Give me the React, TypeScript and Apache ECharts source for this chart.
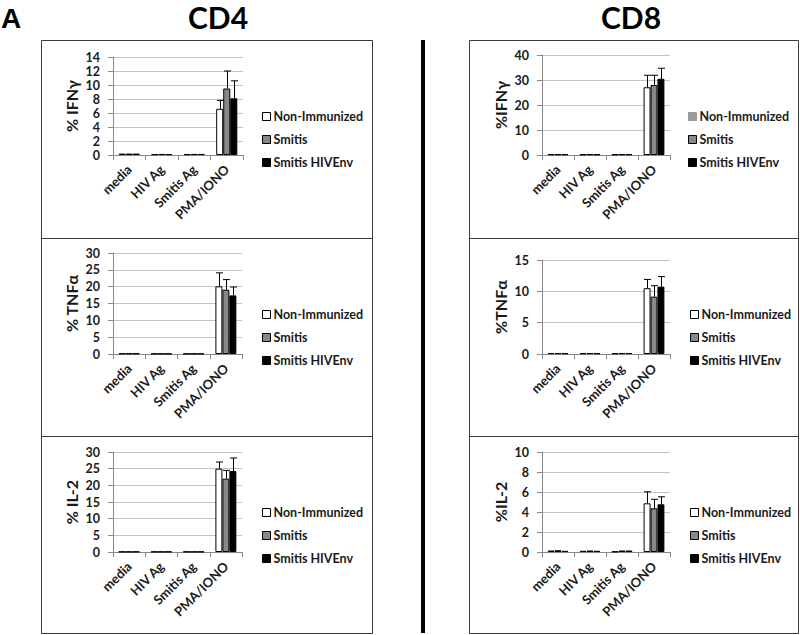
import React, { useEffect, useRef } from "react";
import * as echarts from "echarts";

const categories = ["media", "HIV Ag", "Smitis Ag", "PMA/IONO"];
const seriesNames = ["Non-Immunized", "Smitis", "Smitis HIVEnv"];

// CD4 IFNγ
const cd4IfngNon = [0.2, 0.12, 0.12, 6.6];
const cd4IfngSm = [0.2, 0.15, 0.15, 9.5];
const cd4IfngEnv = [0.2, 0.12, 0.15, 8.1];
const cd4IfngErr = [1.2, 2.5, 2.5];
// CD4 TNFα
const cd4TnfNon = [0.15, 0.1, 0.1, 20.1];
const cd4TnfSm = [0.15, 0.1, 0.1, 19.1];
const cd4TnfEnv = [0.15, 0.1, 0.1, 17.4];
const cd4TnfErr = [4.0, 3.0, 2.5];
// CD4 IL-2
const cd4Il2Non = [0.1, 0.1, 0.1, 25.0];
const cd4Il2Sm = [0.1, 0.1, 0.1, 22.0];
const cd4Il2Env = [0.1, 0.1, 0.1, 24.3];
const cd4Il2Err = [2.0, 2.5, 3.9];
// CD8 IFNγ
const cd8IfngNon = [0.3, 0.25, 0.25, 27.1];
const cd8IfngSm = [0.3, 0.3, 0.3, 28.0];
const cd8IfngEnv = [0.3, 0.25, 0.3, 30.5];
const cd8IfngErr = [4.8, 3.9, 4.2];
// CD8 TNFα
const cd8TnfNon = [0.15, 0.12, 0.1, 10.5];
const cd8TnfSm = [0.15, 0.15, 0.15, 9.15];
const cd8TnfEnv = [0.12, 0.12, 0.15, 10.75];
const cd8TnfErr = [1.4, 1.75, 1.6];
// CD8 IL-2
const cd8Il2Non = [0.15, 0.12, 0.05, 4.87];
const cd8Il2Sm = [0.18, 0.15, 0.15, 4.37];
const cd8Il2Env = [0.12, 0.12, 0.15, 4.77];
const cd8Il2Err = [1.15, 0.9, 0.75];

const colors = ["#ffffff", "#888888", "#000000"];
const GAP = 0.35;

type Panel = {
  name: string;
  values: number[][];
  errs: number[];
  max: number;
  interval: number;
  grid: { left: number; top: number; width: number; height: number };
  legendLeft: number;
  legendTop: number;
  firstLegendColor?: string;
};

const panels: Panel[] = [
  { name: "% IFNγ", values: [cd4IfngNon, cd4IfngSm, cd4IfngEnv], errs: cd4IfngErr, max: 14, interval: 2,
    grid: { left: 113, top: 57, width: 130, height: 98 }, legendLeft: 262, legendTop: 110 },
  { name: "% TNFα", values: [cd4TnfNon, cd4TnfSm, cd4TnfEnv], errs: cd4TnfErr, max: 30, interval: 5,
    grid: { left: 113, top: 253, width: 129, height: 101 }, legendLeft: 262, legendTop: 308 },
  { name: "% IL-2", values: [cd4Il2Non, cd4Il2Sm, cd4Il2Env], errs: cd4Il2Err, max: 30, interval: 5,
    grid: { left: 113, top: 452, width: 129, height: 100 }, legendLeft: 262, legendTop: 506 },
  { name: "%IFNγ", values: [cd8IfngNon, cd8IfngSm, cd8IfngEnv], errs: cd8IfngErr, max: 40, interval: 10,
    grid: { left: 542, top: 55, width: 128, height: 100 }, legendLeft: 688, legendTop: 110, firstLegendColor: "#9a9a9a" },
  { name: "%TNFα", values: [cd8TnfNon, cd8TnfSm, cd8TnfEnv], errs: cd8TnfErr, max: 15, interval: 5,
    grid: { left: 542, top: 260, width: 128, height: 94 }, legendLeft: 690, legendTop: 308 },
  { name: "%IL-2", values: [cd8Il2Non, cd8Il2Sm, cd8Il2Env], errs: cd8Il2Err, max: 10, interval: 2,
    grid: { left: 542, top: 452, width: 128, height: 100 }, legendLeft: 690, legendTop: 506 },
];

const FONT = "Lato";
const TXT = "#1a1a1a";
const SQUARE = "path://M0,0L10,0L10,10L0,10Z";

export default function App() {
  const ref = useRef<HTMLDivElement>(null);
  useEffect(() => {
    if (!ref.current) return;
    const chart = echarts.init(ref.current, undefined, { renderer: "svg" });

    const grids: any[] = [];
    const xAxes: any[] = [];
    const yAxes: any[] = [];
    const series: any[] = [];
    const legends: any[] = [];

    panels.forEach((p, pi) => {
      grids.push({ ...p.grid, containLabel: false });
      xAxes.push({
        type: "category",
        gridIndex: pi,
        data: categories,
        axisLine: { lineStyle: { color: "#888", width: 1 } },
        axisTick: { show: true, length: 5, lineStyle: { color: "#888" } },
        axisLabel: { rotate: 45, margin: 12, color: TXT, fontFamily: FONT, fontWeight: "bold", fontSize: 13, interval: 0 },
      });
      yAxes.push({
        type: "value",
        gridIndex: pi,
        min: 0,
        max: p.max,
        interval: p.interval,
        name: p.name,
        nameLocation: "middle",
        nameGap: 34,
        nameTextStyle: { color: TXT, fontFamily: FONT, fontWeight: "bold", fontSize: 16 },
        axisLine: { show: true, lineStyle: { color: "#888", width: 1 } },
        axisTick: { show: true, length: 5, lineStyle: { color: "#888" } },
        axisLabel: { margin: 13, color: TXT, fontFamily: FONT, fontWeight: "bold", fontSize: 12.5, lineHeight: 12 },
        splitLine: { show: true, lineStyle: { color: "#c4c4c4", width: 1 } },
      });
      p.values.forEach((vals, si) => {
        series.push({
          type: "bar",
          name: seriesNames[si],
          xAxisIndex: pi,
          yAxisIndex: pi,
          data: vals,
          barGap: "0%",
          barCategoryGap: `${GAP * 100}%`,
          itemStyle: { color: colors[si], borderColor: "#000", borderWidth: 1 },
          silent: true,
        });
      });
      const errData = p.errs.map((e, k) => [3, p.values[k][3], e, k]);
      series.push({
        type: "custom",
        xAxisIndex: pi,
        yAxisIndex: pi,
        data: errData,
        encode: { x: 0, y: 1 },
        silent: true,
        z: 5,
        renderItem: (params: any, api: any) => {
          const cat = api.value(0);
          const val = api.value(1);
          const err = api.value(2);
          const k = api.value(3);
          const bandW = api.size([1, 0])[0];
          const barW = (bandW * (1 - GAP)) / 3;
          const base = api.coord([cat, val]);
          const top = api.coord([cat, val + err]);
          const x = Math.round(base[0] + (k - 1) * barW) + 0.5;
          return {
            type: "group",
            children: [
              { type: "line", shape: { x1: x, y1: base[1], x2: x, y2: top[1] }, style: { stroke: "#000", lineWidth: 1 } },
              { type: "line", shape: { x1: x - 3.5, y1: top[1], x2: x + 3.5, y2: top[1] }, style: { stroke: "#000", lineWidth: 1 } },
            ],
          };
        },
      });
      legends.push({
        orient: "vertical",
        left: p.legendLeft,
        top: p.legendTop,
        padding: 0,
        itemWidth: 8,
        itemHeight: 8,
        itemGap: 10,
        icon: SQUARE,
        selectedMode: false,
        textStyle: { color: TXT, fontFamily: FONT, fontWeight: "bold", fontSize: 12.5, lineHeight: 13, padding: [0, 0, 0, -2] },
        data: seriesNames.map((n, i) =>
          i === 0 && p.firstLegendColor
            ? { name: n, icon: SQUARE, itemStyle: { color: p.firstLegendColor, borderColor: p.firstLegendColor, borderWidth: 1 } }
            : { name: n, icon: SQUARE, itemStyle: { borderColor: "#000", borderWidth: 1 } }
        ),
      });
    });

    const boxStyle = { fill: "none", stroke: "#3a3a3a", lineWidth: 1 };
    const graphic: any[] = [
      { type: "rect", shape: { x: 41.5, y: 40.5, width: 331, height: 593 }, style: boxStyle, silent: true },
      { type: "line", shape: { x1: 41.5, y1: 238.5, x2: 372.5, y2: 238.5 }, style: boxStyle, silent: true },
      { type: "line", shape: { x1: 41.5, y1: 436.5, x2: 372.5, y2: 436.5 }, style: boxStyle, silent: true },
      { type: "rect", shape: { x: 469.5, y: 40.5, width: 329, height: 593 }, style: boxStyle, silent: true },
      { type: "line", shape: { x1: 469.5, y1: 238.5, x2: 798.5, y2: 238.5 }, style: boxStyle, silent: true },
      { type: "line", shape: { x1: 469.5, y1: 436.5, x2: 798.5, y2: 436.5 }, style: boxStyle, silent: true },
      { type: "rect", shape: { x: 421, y: 40, width: 4, height: 593 }, style: { fill: "#000" }, silent: true },
      { type: "text", x: 1, y: 4, style: { text: "A", fill: "#000", font: "bold 28px 'Liberation Sans', Arial, sans-serif" }, silent: true },
      { type: "text", x: 218, y: 2, style: { text: "CD4", fill: "#000", align: "center", font: `bold 30px ${FONT}, sans-serif` }, silent: true },
      { type: "text", x: 631, y: 2, style: { text: "CD8", fill: "#000", align: "center", font: `bold 30px ${FONT}, sans-serif` }, silent: true },
    ];

    chart.setOption({
      animation: false,
      backgroundColor: "#fff",
      grid: grids,
      xAxis: xAxes,
      yAxis: yAxes,
      series,
      legend: legends,
      graphic,
    });
    return () => chart.dispose();
  }, []);

  return <div ref={ref} style={{ position: "absolute", left: 0, top: 0, width: 800, height: 635 }} />;
}
